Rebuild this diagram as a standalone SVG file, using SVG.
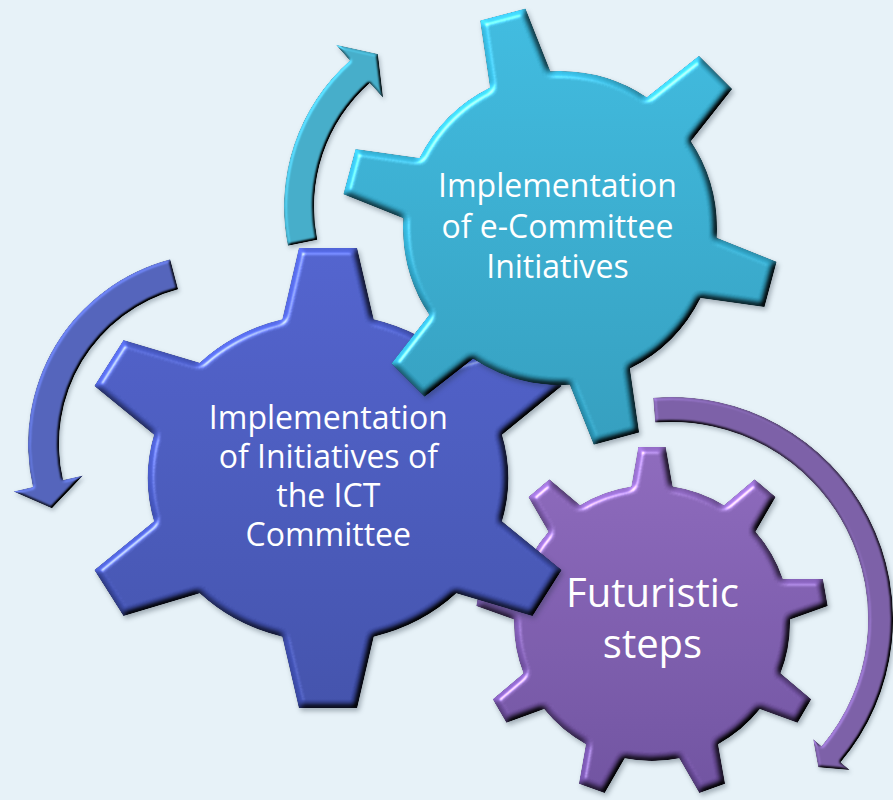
<svg xmlns="http://www.w3.org/2000/svg" width="893" height="800" viewBox="0 0 893 800">
  <style>
    .lbl { font-family: "Open Sans", "Noto Sans", "DejaVu Sans", sans-serif; fill: #ffffff; text-anchor: middle; }
    .small { font-size: 32px; }
    .big { font-size: 40px; }
  </style>
  <defs>
    <filter id="bevel" x="-8%" y="-8%" width="118%" height="118%" color-interpolation-filters="sRGB">
      <feGaussianBlur in="SourceAlpha" stdDeviation="3" result="blur"/>
      <feDiffuseLighting in="blur" surfaceScale="5" diffuseConstant="1" lighting-color="#ffffff" result="diff">
        <feDistantLight azimuth="225" elevation="50"/>
      </feDiffuseLighting>
      <feComposite in="SourceGraphic" in2="diff" operator="arithmetic" k1="1.3" k2="0" k3="0" k4="0" result="lit"/>
      <feSpecularLighting in="blur" surfaceScale="5" specularConstant="0.8" specularExponent="40" lighting-color="#ffffff" result="spec">
        <feDistantLight azimuth="225" elevation="50"/>
      </feSpecularLighting>
      <feComposite in="spec" in2="SourceAlpha" operator="in" result="specIn"/>
      <feComposite in="lit" in2="specIn" operator="arithmetic" k1="0" k2="1" k3="0.6" k4="0" result="shaded"/>
      <feComposite in="shaded" in2="SourceAlpha" operator="in" result="final"/>
      <feDropShadow in="final" dx="2" dy="3" stdDeviation="2.5" flood-color="#1c2a3a" flood-opacity="0.35"/>
    </filter>
    <filter id="bevelS" x="-10%" y="-10%" width="125%" height="125%" color-interpolation-filters="sRGB">
      <feGaussianBlur in="SourceAlpha" stdDeviation="1.5" result="blur"/>
      <feDiffuseLighting in="blur" surfaceScale="3" diffuseConstant="1" lighting-color="#ffffff" result="diff">
        <feDistantLight azimuth="225" elevation="50"/>
      </feDiffuseLighting>
      <feComposite in="SourceGraphic" in2="diff" operator="arithmetic" k1="1.3" k2="0" k3="0" k4="0" result="lit"/>
      <feComposite in="lit" in2="SourceAlpha" operator="in" result="final"/>
      <feDropShadow in="final" dx="1.5" dy="2.5" stdDeviation="2" flood-color="#1c2a3a" flood-opacity="0.3"/>
    </filter>

    <linearGradient id="gB" gradientUnits="userSpaceOnUse" x1="0" y1="-230" x2="0" y2="230">
      <stop offset="0" stop-color="#4A5CC6"/>
      <stop offset="1" stop-color="#3B4AA4"/>
    </linearGradient>
    <linearGradient id="gT" gradientUnits="userSpaceOnUse" x1="0" y1="-222" x2="0" y2="222">
      <stop offset="0" stop-color="#38B4D8"/>
      <stop offset="1" stop-color="#2C96B6"/>
    </linearGradient>
    <linearGradient id="gP" gradientUnits="userSpaceOnUse" x1="0" y1="-176" x2="0" y2="176">
      <stop offset="0" stop-color="#8663B5"/>
      <stop offset="1" stop-color="#684A98"/>
    </linearGradient>

    <clipPath id="cB">
      <circle cx="0" cy="0" r="164"/>
      <polygon points="-45.5,-140 -26.5,-230 26.5,-230 45.5,-140"/>
      <polygon points="-45.5,-140 -26.5,-230 26.5,-230 45.5,-140" transform="rotate(60)"/>
      <polygon points="-45.5,-140 -26.5,-230 26.5,-230 45.5,-140" transform="rotate(120)"/>
      <polygon points="-45.5,-140 -26.5,-230 26.5,-230 45.5,-140" transform="rotate(180)"/>
      <polygon points="-45.5,-140 -26.5,-230 26.5,-230 45.5,-140" transform="rotate(240)"/>
      <polygon points="-45.5,-140 -26.5,-230 26.5,-230 45.5,-140" transform="rotate(300)"/>
    </clipPath>
    <clipPath id="cT">
      <circle cx="0" cy="0" r="157"/>
      <polygon points="-34,-130 -23.5,-221 23.5,-221 34,-130" transform="rotate(-15)"/>
      <polygon points="-34,-130 -23.5,-220 23.5,-220 34,-130" transform="rotate(45)"/>
      <polygon points="-34,-130 -23.5,-218 23.5,-218 34,-130" transform="rotate(105)"/>
      <polygon points="-34,-130 -23.5,-218 23.5,-218 34,-130" transform="rotate(165)"/>
      <polygon points="-34,-130 -23.5,-215 23.5,-215 34,-130" transform="rotate(225)"/>
      <polygon points="-34,-130 -23.5,-218 23.5,-218 34,-130" transform="rotate(285)"/>
    </clipPath>
    <clipPath id="cP">
      <circle cx="0" cy="0" r="138"/>
      <polygon points="-23.5,-120 -13.7,-176 13.7,-176 23.5,-120"/>
      <polygon points="-23.5,-120 -13.7,-176 13.7,-176 23.5,-120" transform="rotate(40)"/>
      <polygon points="-23.5,-120 -13.7,-176 13.7,-176 23.5,-120" transform="rotate(80)"/>
      <polygon points="-23.5,-120 -13.7,-176 13.7,-176 23.5,-120" transform="rotate(120)"/>
      <polygon points="-23.5,-120 -13.7,-176 13.7,-176 23.5,-120" transform="rotate(160)"/>
      <polygon points="-23.5,-120 -13.7,-176 13.7,-176 23.5,-120" transform="rotate(200)"/>
      <polygon points="-23.5,-120 -13.7,-176 13.7,-176 23.5,-120" transform="rotate(240)"/>
      <polygon points="-23.5,-120 -13.7,-176 13.7,-176 23.5,-120" transform="rotate(280)"/>
      <polygon points="-23.5,-120 -13.7,-176 13.7,-176 23.5,-120" transform="rotate(320)"/>
    </clipPath>
  </defs>

  <rect x="0" y="0" width="893" height="800" fill="#E7F2F8"/>

  <g id="connectors">
    <path id="arrow-teal" filter="url(#bevelS)" fill="#47AFCB"
      d="M 317.3 239.8 L 287.9 245.7 A 196 196 0 0 1 349.9 60.4 L 335.9 44.7 L 377.9 53.9 L 383.1 97.8 L 369.8 82.9 A 166 166 0 0 0 317.3 239.8 Z"/>
    <path id="arrow-blue" filter="url(#bevelS)" fill="#5566BD"
      d="M 178.1 289.3 L 170.2 259.3 A 191 191 0 0 0 32.9 487.0 L 13.4 491.5 L 51.9 508.2 L 83.1 475.4 L 63.1 480.0 A 160 160 0 0 1 178.1 289.3 Z"/>
    <path id="arrow-purple" filter="url(#bevelS)" fill="#7E62A9"
      d="M 655.2 422.6 L 653.2 397.7 A 222 222 0 0 1 840.6 762.3 L 849.7 770.0 L 818.3 767.3 L 813.1 739.1 L 821.5 746.2 A 197 197 0 0 0 655.2 422.6 Z"/>
  </g>

  <g id="gear-futuristic">
    <g filter="url(#bevel)">
      <g transform="translate(652,623)">
        <rect x="-180" y="-180" width="360" height="360" fill="url(#gP)" clip-path="url(#cP)"/>
      </g>
    </g>
    <text class="lbl big" x="652.5" y="607">Futuristic</text>
    <text class="lbl big" x="652.5" y="658">steps</text>
  </g>

  <g id="gear-ict">
    <g filter="url(#bevel)">
      <g transform="translate(328,478) scale(1.1,1)">
        <rect x="-235" y="-235" width="470" height="470" fill="url(#gB)" clip-path="url(#cB)"/>
      </g>
    </g>
    <text class="lbl small" x="328.3" y="429">Implementation</text>
    <text class="lbl small" x="328.3" y="468">of Initiatives of</text>
    <text class="lbl small" x="328.3" y="507">the ICT</text>
    <text class="lbl small" x="328.3" y="546">Committee</text>
  </g>

  <g id="gear-ecommittee">
    <g filter="url(#bevel)">
      <g transform="translate(560,228)">
        <rect x="-226" y="-226" width="452" height="452" fill="url(#gT)" clip-path="url(#cT)"/>
      </g>
    </g>
    <text class="lbl small" x="557.5" y="197.3">Implementation</text>
    <text class="lbl small" x="557.5" y="238">of e-Committee</text>
    <text class="lbl small" x="557.5" y="278.3">Initiatives</text>
  </g>
</svg>
